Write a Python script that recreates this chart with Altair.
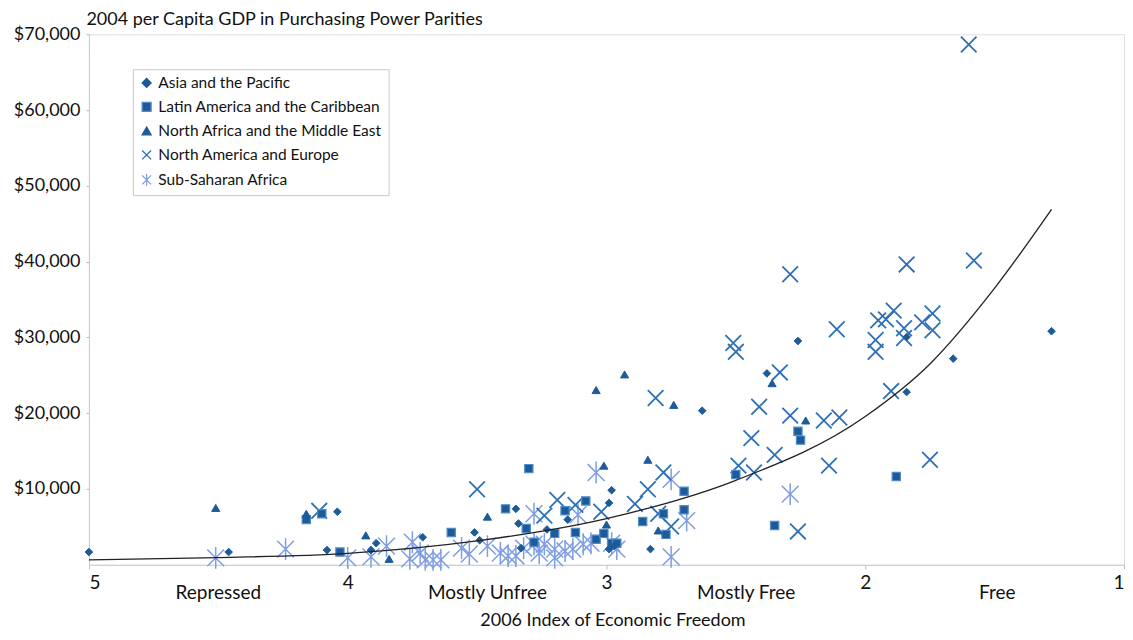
import altair as alt
import pandas as pd

REGIONS = [
    "Asia and the Pacific",
    "Latin America and the Caribbean",
    "North Africa and the Middle East",
    "North America and Europe",
    "Sub-Saharan Africa",
]

# Asia and the Pacific (diamonds)
asia_score = [5.00, 4.46, 4.04, 4.08, 3.91, 3.89, 3.71, 3.51, 3.49, 3.35, 3.34, 3.23, 3.33,
              3.15, 2.98, 2.99, 2.99, 2.97, 2.83, 2.63, 2.38, 2.26, 1.84, 1.84, 1.66, 1.28]
asia_gdp = [1680, 1680, 7000, 1940, 1940, 2850, 3630, 4270, 3240, 7380, 5440, 4660, 2200,
            5960, 9840, 8160, 2070, 2460, 2070, 20330, 25250, 29530, 30050, 22790, 27200, 30820]

# Latin America and the Caribbean (squares)
latam_score = [4.16, 4.10, 4.03, 3.60, 3.39, 3.30, 3.31, 3.28, 3.16, 3.20, 3.12, 3.08, 3.04,
               3.01, 2.98, 2.96, 2.86, 2.78, 2.77, 2.70, 2.70, 2.50, 2.35, 2.26, 2.25, 1.88]
latam_gdp = [5960, 6730, 1680, 4270, 7380, 12690, 4790, 2980, 7120, 4140, 4270, 8420, 3370,
             4140, 2850, 2850, 5700, 6730, 4010, 7250, 9710, 11910, 5180, 17610, 16450, 11650]

# North Africa and the Middle East (triangles)
mena_score = [4.51, 4.16, 3.93, 3.84, 3.46, 3.01, 3.00, 3.04, 2.93, 2.84, 2.74, 2.80, 2.36, 2.23]
mena_gdp = [7500, 6730, 3880, 780, 6350, 13080, 5310, 23050, 25120, 13860, 21100, 4530, 23960, 19040]

# North America and Europe (crosses)
nae_score = [4.11, 3.50, 3.24, 3.19, 3.12, 3.02, 2.89, 2.84, 2.81, 2.78, 2.80, 2.75, 2.51, 2.50,
             2.49, 2.43, 2.44, 2.41, 2.35, 2.33, 2.29, 2.29, 2.26, 2.16, 2.10, 2.11, 2.14, 1.95,
             1.92, 1.89, 1.96, 1.96, 1.85, 1.85, 1.78, 1.74, 1.74, 1.90, 1.75, 1.84, 1.58, 1.60]
nae_gdp = [7120, 9970, 6480, 8550, 7900, 6990, 8030, 9970, 22010, 12170, 6730, 5050, 29270, 28100,
           13080, 12170, 16710, 20850, 14500, 25380, 38330, 19680, 4400, 19040, 19430, 31080, 13080, 32250,
           32380, 33540, 29660, 28100, 31210, 29920, 31990, 33150, 30950, 22920, 13860, 39630, 40150, 68650]

# Sub-Saharan Africa (asterisks)
ssa_score = [4.51, 4.24, 4.00, 3.91, 3.85, 3.75, 3.76, 3.72, 3.70, 3.67, 3.64, 3.56, 3.53, 3.46,
             3.41, 3.38, 3.35, 3.32, 3.28, 3.28, 3.26, 3.24, 3.20, 3.20, 3.16, 3.13, 3.11, 3.09,
             3.06, 3.04, 2.98, 2.96, 2.75, 2.75, 2.69, 2.29]
ssa_gdp = [910, 2070, 910, 1040, 2460, 2980, 780, 1550, 650, 650, 650, 2200, 1420, 2460,
           1550, 1170, 1170, 2200, 6730, 2720, 1550, 2720, 2070, 910, 1810, 2070, 6600, 2720,
           2850, 12170, 2850, 2070, 1040, 11270, 5830, 9320]

# Exponential trend curve
trend_score = [5.0, 4.5, 4.0, 3.5, 3.0, 2.5, 2.0, 1.75, 1.5, 1.28]
trend_gdp = [650, 950, 1510, 3150, 6090, 11140, 19560, 26500, 36500, 46900]

zone_labels = ["Repressed", "Mostly Unfree", "Mostly Free", "Free"]
zone_pos = [4.5, 3.46, 2.46, 1.49]

x_ticks = [5, 4, 3, 2, 1]
y_ticks = [10000, 20000, 30000, 40000, 50000, 60000, 70000]

# ---- tables ----
rows = []
for reg, xs, ys in [
    (REGIONS[0], asia_score, asia_gdp),
    (REGIONS[1], latam_score, latam_gdp),
    (REGIONS[2], mena_score, mena_gdp),
    (REGIONS[3], nae_score, nae_gdp),
    (REGIONS[4], ssa_score, ssa_gdp),
]:
    for a, b in zip(xs, ys):
        rows.append({"region": reg, "score": a, "gdp": b})
pts = pd.DataFrame(rows)
trend = pd.DataFrame({"score": trend_score, "gdp": trend_gdp})
zones = pd.DataFrame({"label": zone_labels, "score": zone_pos})

W, H = 1036, 531
FONT = "Lato"
DARK = "#1d5b98"
SQ_EDGE = "#4f8bcf"
X_COL = "#2c70b6"
STAR_COL = "#7f9de3"
X_PATH = "M-1,-1L1,1M-1,1L1,-1"
STAR_PATH = "M-1,-1L1,1M-1,1L1,-1M0,-1.3L0,1.3"

xscale = alt.Scale(domain=[1, 5], reverse=True, nice=False, zero=False)
yscale = alt.Scale(domain=[0, 70000], nice=False)

xaxis = alt.Axis(values=x_ticks, format="d", grid=False, tickSize=4, tickColor="#bbbbbb",
                 domainColor="#cccccc", labelFont=FONT, labelFontSize=19, labelColor="#111111",
                 labelPadding=5, title="2006 Index of Economic Freedom", titleFont=FONT,
                 titleFontSize=18, titleFontWeight="normal", titleColor="#111111",
                 titleBaseline="alphabetic", titleY=61, titleX=W / 2 + 6)
yaxis = alt.Axis(values=y_ticks, format="$,.0f", grid=False, tickSize=3, tickColor="#bbbbbb",
                 domainColor="#cccccc", labelFont=FONT, labelFontSize=18, labelColor="#111111",
                 labelPadding=6, minExtent=81, maxExtent=81,
                 title="2004 per Capita GDP in Purchasing Power Parities",
                 titleAngle=0, titleAlign="left", titleBaseline="alphabetic", titleX=-3, titleY=-10,
                 titleFont=FONT, titleFontSize=18, titleFontWeight="normal", titleColor="#111111")

legend = alt.Legend(orient="none", legendX=44, legendY=35, title=None, labelFont=FONT,
                    labelFontSize=15.5, labelColor="#111111", strokeColor="#c8c8c8",
                    fillColor="white", padding=6, rowPadding=7, labelLimit=400,
                    symbolSize=80, symbolStrokeWidth=1.3)

dom = REGIONS
shape_enc = alt.Shape("region:N", scale=alt.Scale(domain=dom, range=["diamond", "square", "triangle-up", X_PATH, STAR_PATH]), legend=legend)
fill_enc = alt.Fill("region:N", scale=alt.Scale(domain=dom, range=[DARK, DARK, DARK, "rgba(0,0,0,0)", "rgba(0,0,0,0)"]), legend=legend)
stroke_enc = alt.Stroke("region:N", scale=alt.Scale(domain=dom, range=[DARK, SQ_EDGE, DARK, X_COL, STAR_COL]), legend=legend)

# per-region marker sizes and stroke widths (styles, not data)
STYLE = {
    REGIONS[4]: (285, 1.5),
    REGIONS[3]: (245, 1.8),
    REGIONS[1]: (68, 1.2),
    REGIONS[2]: (66, 1.0),
    REGIONS[0]: (58, 1.0),
}

layers = []
for reg in [REGIONS[4], REGIONS[3], REGIONS[1], REGIONS[2], REGIONS[0]]:
    sz, sw = STYLE[reg]
    layers.append(
        alt.Chart(pts).transform_filter(alt.datum.region == reg)
        .mark_point(opacity=1, size=sz, strokeWidth=sw)
        .encode(
            x=alt.X("score:Q", scale=xscale, axis=xaxis),
            y=alt.Y("gdp:Q", scale=yscale, axis=yaxis),
            shape=shape_enc, fill=fill_enc, stroke=stroke_enc,
        )
    )

line = alt.Chart(trend).mark_line(color="#222222", strokeWidth=1.3, interpolate="monotone").encode(
    x=alt.X("score:Q", scale=xscale),
    y=alt.Y("gdp:Q", scale=yscale),
)

zone_text = alt.Chart(zones).mark_text(font=FONT, fontSize=19, color="#111111", baseline="alphabetic").encode(
    x=alt.X("score:Q", scale=xscale),
    y=alt.value(H + 34),
    text="label:N",
)

chart = alt.layer(*layers, line, zone_text).properties(
    width=W, height=H, padding={"left": 0, "top": 2, "right": 0, "bottom": 0}
).configure_view(stroke="#d4d4d4").configure(background="white")

chart.save("out.html", embed_options={"renderer": "svg", "actions": False})
